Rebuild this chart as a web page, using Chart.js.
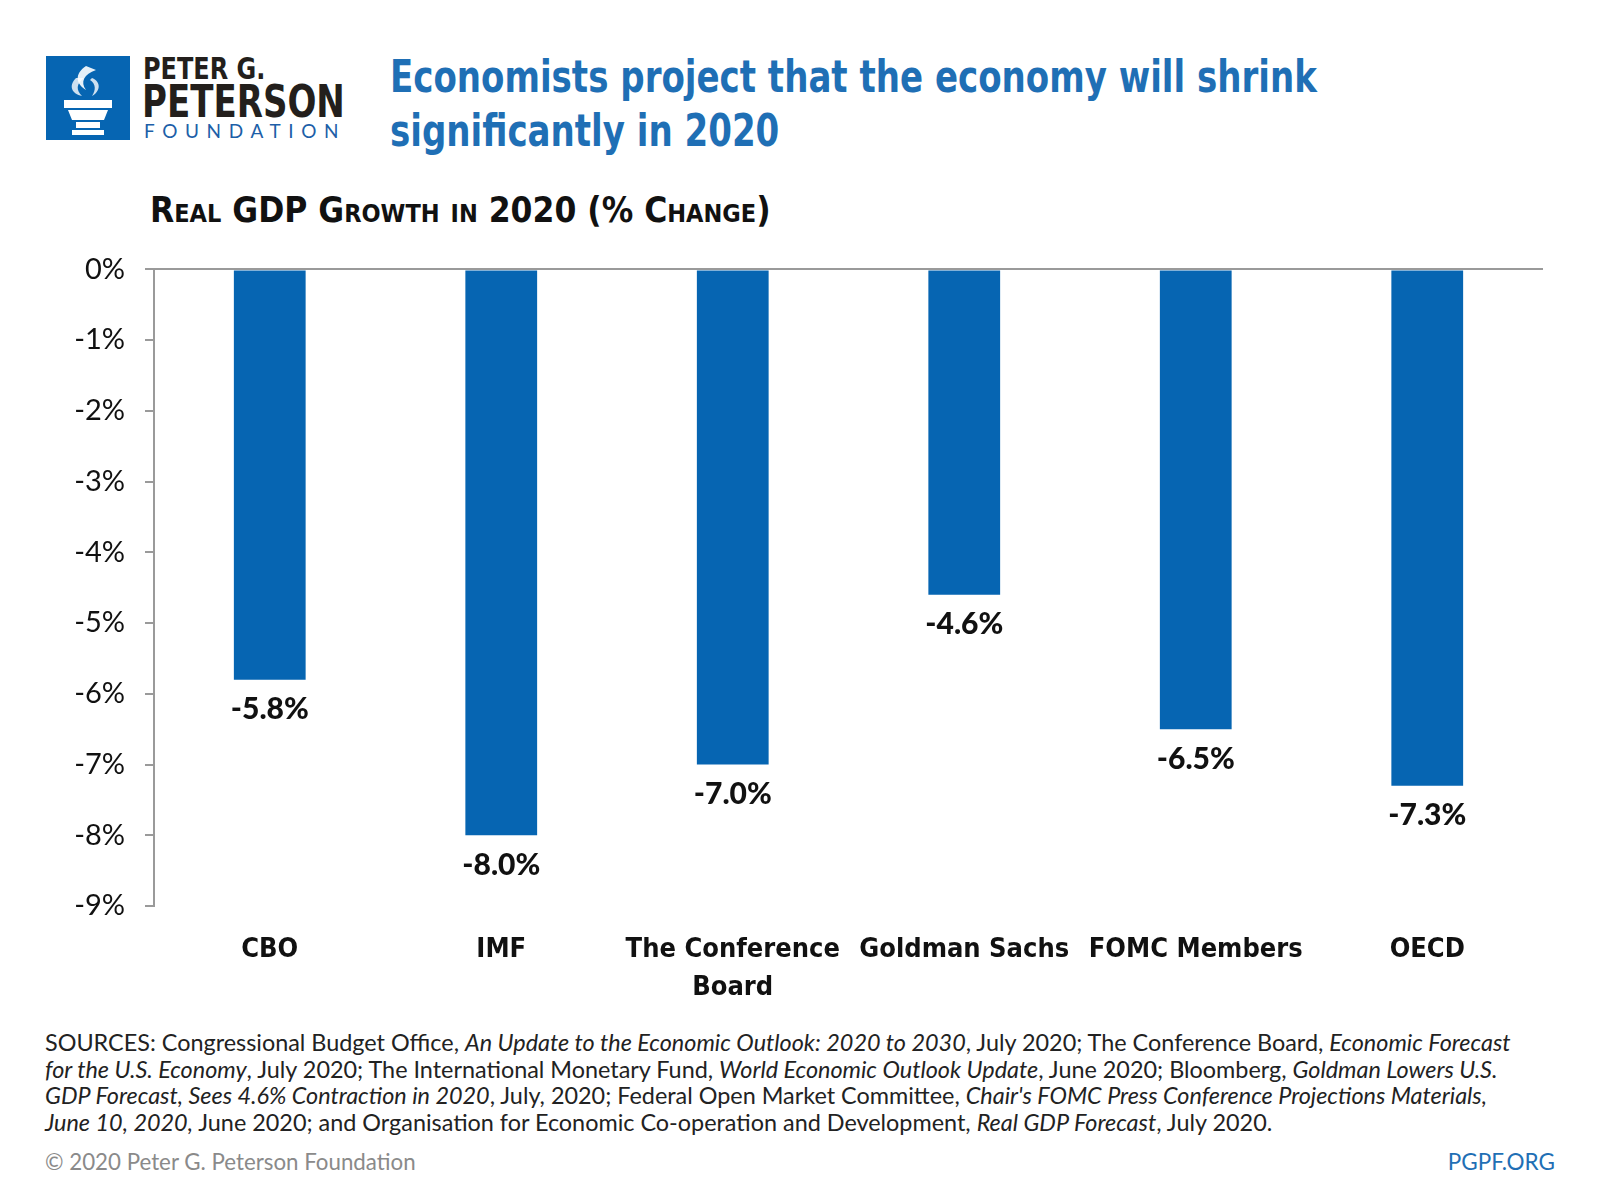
<!DOCTYPE html>
<html>
<head>
<meta charset="utf-8">
<script src="https://cdn.jsdelivr.net/npm/chart.js@4"></script>
<style>
body{margin:0;background:#fff;width:1600px;height:1200px;position:relative;overflow:hidden;font-family:Lato,"Noto Sans",sans-serif;}
.abs{position:absolute;white-space:nowrap;}
.narrow{font-family:"Liberation Sans Narrow","DejaVu Sans Condensed",sans-serif;font-weight:bold;transform-origin:0 0;}
#logoBox{left:46px;top:56px;width:84px;height:84px;background:#0665b2;}
#title{left:390px;top:50px;font-size:44px;line-height:54px;color:#1f6fb5;transform:scaleX(0.86);}
#sub{left:150px;top:190px;font-size:35px;font-variant:small-caps;color:#111;}
#src{left:45px;top:1029px;font-size:23.4px;line-height:26.5px;color:#222;}
#copy{left:45px;top:1148px;font-size:22.3px;color:#8a8a8a;}
#site{right:45px;top:1148px;font-size:22.5px;color:#1f6fb5;}
#wrap{position:absolute;left:20px;top:232px;width:1540px;height:792px;}
</style>
</head>
<body>
<div id="logoBox" class="abs">
<svg width="84" height="84" viewBox="0 0 84 84">
<path d="M40 10 C28 18 30 28 40 34 C34 26 38 18 50 14 Z" fill="#fff" opacity="0.9"/>
<path d="M30 22 C22 30 26 38 36 40 C30 34 30 28 38 22 Z" fill="#fff" opacity="0.8"/>
<path d="M46 22 C56 26 54 36 46 40 C50 34 50 28 44 24 Z" fill="#fff" opacity="0.8"/>
<rect x="18" y="44" width="48" height="8" fill="#fff"/>
<path d="M22 54 L62 54 L58 64 L26 64 Z" fill="#fff"/>
<rect x="30" y="66" width="24" height="6" fill="#fff"/>
<rect x="26" y="74" width="32" height="5" fill="#fff"/>
</svg>
</div>
<div class="abs narrow" style="left:143px;top:50px;font-size:31px;color:#231f1c;transform:scaleX(0.86);">PETER G.</div>
<div class="abs narrow" style="left:142px;top:76px;font-size:44px;color:#231f1c;transform:scaleX(0.86);">PETERSON</div>
<div class="abs" style="left:144px;top:119px;font-size:19px;letter-spacing:7.6px;color:#1d5fa8;font-family:Lato,sans-serif;">FOUNDATION</div>

<div id="title" class="abs narrow">Economists project that the economy will shrink<br>significantly in 2020</div>
<div id="sub" class="abs narrow">Real GDP Growth in 2020 (% Change)</div>

<div id="wrap"><canvas id="gdpChart"></canvas></div>

<div id="src" class="abs">
<div class="ln">SOURCES: Congressional Budget Office, <i>An Update to the Economic Outlook: 2020 to 2030</i>, July 2020; The Conference Board, <i>Economic Forecast</i></div>
<div class="ln"><i>for the U.S. Economy</i>, July 2020; The International Monetary Fund, <i>World Economic Outlook Update</i>, June 2020; Bloomberg, <i>Goldman Lowers U.S.</i></div>
<div class="ln"><i>GDP Forecast, Sees 4.6% Contraction in 2020</i>, July, 2020; Federal Open Market Committee, <i>Chair's FOMC Press Conference Projections Materials,</i></div>
<div class="ln"><i>June 10, 2020,</i> June 2020; and Organisation for Economic Co-operation and Development, <i>Real GDP Forecast</i>, July 2020.</div>
</div>
<div id="copy" class="abs">© 2020 Peter G. Peterson Foundation</div>
<div id="site" class="abs">PGPF.ORG</div>

<script>
const agencies = ["CBO","IMF",["The Conference","Board"],"Goldman Sachs","FOMC Members","OECD"];
const growth = [-5.8,-8.0,-7.0,-4.6,-6.5,-7.3];
const yTicks = [0,-1,-2,-3,-4,-5,-6,-7,-8,-9];

// labels under each bar
const barLabels = {
  id:"barLabels",
  afterDatasetsDraw(chart){
    const ctx = chart.ctx;
    const meta = chart.getDatasetMeta(0);
    ctx.save();
    ctx.font = "900 30px Lato, sans-serif";
    ctx.fillStyle = "#111";
    ctx.textAlign = "center";
    ctx.textBaseline = "middle";
    meta.data.forEach((bar,i)=>{
      ctx.fillText(growth[i].toFixed(1)+"%", bar.x, bar.y+30);
    });
    ctx.restore();
  }
};

new Chart(document.getElementById("gdpChart"),{
  type:"bar",
  data:{
    labels:agencies,
    datasets:[{
      data:growth,
      backgroundColor:"#0665b2",
      barPercentage:0.62,
      categoryPercentage:0.5
    }]
  },
  options:{
    responsive:true,
    maintainAspectRatio:false,
    animation:false,
    layout:{padding:{top:23,right:17,left:0,bottom:0}},
    plugins:{legend:{display:false},tooltip:{enabled:false}},
    scales:{
      x:{
        grid:{display:false},
        border:{display:false},
        ticks:{
          color:"#111",
          padding:17,
          font:{family:"'Liberation Sans Narrow','DejaVu Sans Condensed',sans-serif",weight:"bold",size:27,lineHeight:1.4},
          maxRotation:0,autoSkip:false
        },
        afterFit(s){s.height=118;}
      },
      y:{
        min:-9,max:0,
        afterBuildTicks(s){s.ticks=yTicks.map(v=>({value:v}));},
        border:{display:true,color:"#9a9a9a",width:2},
        grid:{
          color:c=>c.tick && c.tick.value===0 ? "#9a9a9a" : "transparent",
          tickColor:"#9a9a9a",
          lineWidth:2,
          tickLength:9,
          drawTicks:true
        },
        ticks:{
          color:"#111",
          padding:20,
          font:{family:"Lato, sans-serif",size:29},
          callback:v=>v+"%"
        },
        afterFit(s){s.width=134;}
      }
    }
  },
  plugins:[barLabels]
});
</script>
</body>
</html>
